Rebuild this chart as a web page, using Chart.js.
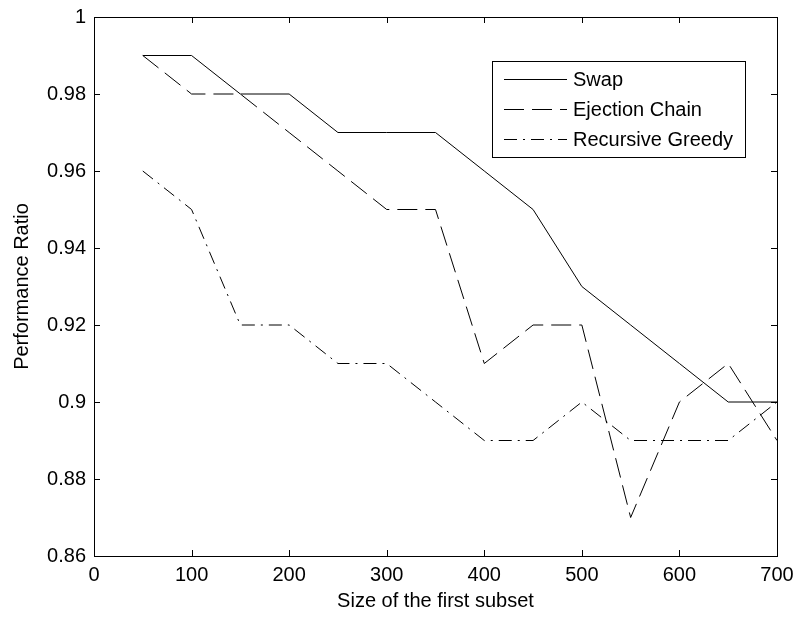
<!DOCTYPE html>
<html>
<head>
<meta charset="utf-8">
<script src="https://cdn.jsdelivr.net/npm/chart.js@4/dist/chart.umd.min.js"></script>
<style>
    html, body { margin: 0; padding: 0; background: #fff; }
    #wrap { width: 796px; height: 617px; }
</style>
</head>
<body>
<div id="wrap"><canvas id="chart"></canvas></div>
<script>
// Data
const subsetSizes = [50, 100, 150, 200, 250, 300, 350, 400, 450, 500, 550, 600, 650, 700];
const swap = [0.99, 0.99, 0.98, 0.98, 0.97, 0.97, 0.97, 0.96, 0.95, 0.93, 0.92, 0.91, 0.90, 0.90];
const ejectionChain = [0.99, 0.98, 0.98, 0.97, 0.96, 0.95, 0.95, 0.91, 0.92, 0.92, 0.87, 0.90, 0.91, 0.89];
const recursiveGreedy = [0.96, 0.95, 0.92, 0.92, 0.91, 0.91, 0.90, 0.89, 0.89, 0.90, 0.89, 0.89, 0.89, 0.90];
const seriesNames = ['Swap', 'Ejection Chain', 'Recursive Greedy'];

const toPoints = (ys) => subsetSizes.map((x, i) => ({ x: x, y: ys[i] }));

const FONT = '"Liberation Sans", Arial, sans-serif';
Chart.defaults.font.family = FONT;
Chart.defaults.font.size = 20;
Chart.defaults.color = '#000';

// MATLAB-style box with inward ticks
const boxTicks = {
    id: 'boxTicks',
    afterDraw(chart) {
        const { ctx, chartArea: a, scales } = chart;
        const len = 6;
        ctx.save();
        ctx.strokeStyle = '#000';
        ctx.lineWidth = 1;
        ctx.strokeRect(a.left + 0.5, a.top + 0.5, a.right - a.left, a.bottom - a.top);
        ctx.beginPath();
        scales.x.ticks.forEach(t => {
            const px = Math.round(scales.x.getPixelForValue(t.value)) + 0.5;
            ctx.moveTo(px, a.bottom); ctx.lineTo(px, a.bottom - len);
            ctx.moveTo(px, a.top); ctx.lineTo(px, a.top + len);
        });
        scales.y.ticks.forEach(t => {
            const py = Math.round(scales.y.getPixelForValue(t.value)) + 0.5;
            ctx.moveTo(a.left, py); ctx.lineTo(a.left + len, py);
            ctx.moveTo(a.right, py); ctx.lineTo(a.right - len, py);
        });
        ctx.stroke();
        ctx.restore();
    }
};

// Legend box in the upper right of the plot
const boxLegend = {
    id: 'boxLegend',
    afterDraw(chart) {
        const { ctx, chartArea: a } = chart;
        const x0 = a.right - 285, y0 = a.top + 44, w = 253, h = 96;
        ctx.save();
        ctx.fillStyle = '#fff';
        ctx.fillRect(x0, y0, w, h);
        ctx.strokeStyle = '#000';
        ctx.lineWidth = 1;
        ctx.strokeRect(x0 + 0.5, y0 + 0.5, w, h);
        ctx.font = '20px ' + FONT;
        ctx.textBaseline = 'middle';
        ctx.fillStyle = '#000';
        chart.data.datasets.forEach((ds, i) => {
            const cy = Math.round(y0 + 18 + i * 30) + 0.5;
            ctx.beginPath();
            ctx.setLineDash(ds.borderDash || []);
            ctx.moveTo(x0 + 12, cy);
            ctx.lineTo(x0 + 75, cy);
            ctx.stroke();
            ctx.setLineDash([]);
            ctx.fillText(ds.label, x0 + 81, cy + 1);
        });
        ctx.restore();
    }
};

new Chart(document.getElementById('chart'), {
    type: 'line',
    data: {
        datasets: [
            { label: seriesNames[0], data: toPoints(swap), borderDash: [] },
            { label: seriesNames[1], data: toPoints(ejectionChain), borderDash: [20, 8] },
            { label: seriesNames[2], data: toPoints(recursiveGreedy), borderDash: [13, 6, 2, 6] }
        ].map(d => Object.assign(d, {
            borderColor: '#000',
            borderWidth: 1,
            pointRadius: 0,
            fill: false,
            tension: 0
        }))
    },
    options: {
        responsive: true,
        maintainAspectRatio: false,
        animation: false,
        layout: { padding: { top: 17, right: 19, left: 0, bottom: 0 } },
        plugins: {
            legend: { display: false },
            tooltip: { enabled: false }
        },
        scales: {
            x: {
                type: 'linear',
                min: 0,
                max: 700,
                ticks: { stepSize: 100, padding: 7 },
                grid: { display: false, drawTicks: false },
                border: { display: false },
                title: { display: true, text: 'Size of the first subset', padding: { top: 4, bottom: 4 } },
                afterFit: s => { s.height = 61; s.paddingLeft = 0; s.paddingRight = 0; }
            },
            y: {
                min: 0.86,
                max: 1,
                ticks: { stepSize: 0.02, padding: 8, callback: v => String(+v.toFixed(2)) },
                grid: { display: false, drawTicks: false },
                border: { display: false },
                title: { display: true, text: 'Performance Ratio', padding: { top: 10, bottom: 0 } },
                afterFit: s => { s.width = 94; s.paddingTop = 0; s.paddingBottom = 0; }
            }
        }
    },
    plugins: [boxTicks, boxLegend]
});
</script>
</body>
</html>
